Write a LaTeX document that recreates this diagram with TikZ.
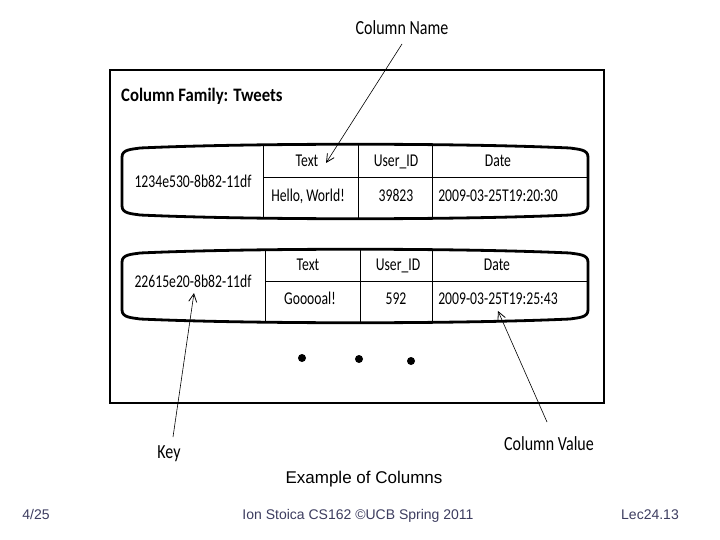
\documentclass[tikz,border=0pt]{standalone}
\usepackage{fontspec}
\usepackage{graphicx}
\setmainfont{Carlito}
\newfontfamily\capfont{Liberation Sans}
\usetikzlibrary{arrows.meta}
\definecolor{footgray}{RGB}{60,60,95}
\newcommand\sq[1]{\scalebox{0.76}[1]{#1}}
\newcommand\sqb[1]{\scalebox{0.8}[1]{#1}}
\tikzset{
  tb/.style={font=\fontsize{18}{18}\selectfont, inner sep=0pt, text height=1.12em, text depth=0.1em},
  lbl/.style={font=\fontsize{20}{20}\selectfont, inner sep=0pt, text height=1.1em, text depth=0.1em},
  rowline/.style={line width=2.8pt, line join=round},
  grid/.style={line width=0.9pt},
  pointer/.style={line width=0.6pt, -{Straight Barb[length=8pt,width=8pt,line width=0.8pt]}},
  foot/.style={font=\capfont\fontsize{14}{14}\selectfont, text=footgray, inner sep=0pt, text height=0.72em, text depth=0.1em},
  dotc/.style={fill=black, draw=none}
}
\newcommand\rowshape[2]{%
  \draw[rowline] (122,{#1+14}) to[out=90,in=190] (140,{#1+5})
    .. controls (250,{#1}) and (460,{#1}) .. (570,{#1+5})
    to[out=-10,in=90] (588,{#1+14}) -- (588,{#2-14})
    to[out=-90,in=10] (570,{#2-5})
    .. controls (460,{#2}) and (250,{#2}) .. (140,{#2-5})
    to[out=170,in=-90] (122,{#2-14}) -- cycle;}
\begin{document}
\begin{tikzpicture}[x=1pt,y=-1pt]
\useasboundingbox (0,0) rectangle (720,540);
% outer frame
\draw[line width=1.3pt] (110,70) rectangle (604,403);
\node[anchor=west, font=\bfseries\fontsize{19}{19}\selectfont, inner sep=0pt, text height=1.1em, text depth=0.1em] (title) at (121,97) {\scalebox{0.88}[1]{Column Family: Tweets}};

% row 1
\rowshape{143}{220}
\draw[grid] (263,145) -- (263,218);
\draw[grid] (358,145) -- (358,219);
\draw[grid] (432,145) -- (432,219);
\draw[grid] (263,177) -- (588,177);
\node[tb] (k1) at (193,182) {\sq{1234e530-8b82-11df}};
\node[tb] (t1) at (307,161) {\sq{Text}};
\node[tb] (u1) at (396,161) {\sq{User\_ID}};
\node[tb] (d1) at (498,161) {\sq{Date}};
\node[tb] (v1) at (308,196) {\sq{Hello, World!}};
\node[tb] (w1) at (396,196) {\sq{39823}};
\node[tb] (x1) at (498,196) {\sq{2009-03-25T19:20:30}};

% row 2
\rowshape{248}{324}
\draw[grid] (265,250) -- (265,322);
\draw[grid] (360,250) -- (360,323);
\draw[grid] (432,250) -- (432,323);
\draw[grid] (265,281) -- (588,281);
\node[tb] (k2) at (193,282) {\sq{22615e20-8b82-11df}};
\node[tb] (t2) at (308,265) {\sq{Text}};
\node[tb] (u2) at (398,265) {\sq{User\_ID}};
\node[tb] (d2) at (497,265) {\sq{Date}};
\node[tb] (v2) at (310,299) {\sq{Gooooal!}};
\node[tb] (w2) at (396,299) {\sq{592}};
\node[tb] (x2) at (498,299) {\sq{2009-03-25T19:25:43}};

% dots
\fill[dotc] (302,358) circle (4);
\fill[dotc] (359,359) circle (4);
\fill[dotc] (411,361) circle (4);

% labels and pointers
\node[lbl] (cn) at (402,30) {\sqb{Column Name}};
\node[lbl] (key) at (169,453) {\sqb{Key}};
\node[lbl] (cv) at (549,445) {\sqb{Column Value}};
\coordinate (cnS) at (402,44);
\coordinate (cnT) at (326,163);
\coordinate (keyS) at (173,437);
\coordinate (keyT) at (194,293);
\coordinate (cvS) at (547,422);
\coordinate (cvT) at (498,311);
\draw[pointer] (cnS) -- (cnT);
\draw[pointer] (keyS) -- (keyT);
\draw[pointer] (cvS) -- (cvT);

% caption and footer
\node[font=\capfont\fontsize{17}{17}\selectfont, inner sep=0pt, text height=0.72em, text depth=0.1em] (cap) at (364,480) {Example of Columns};
\node[foot] (f1) at (36,516) {4/25};
\node[foot] (f2) at (358,516) {Ion Stoica CS162 ©UCB Spring 2011};
\node[foot] (f3) at (650,516) {Lec24.13};
\end{tikzpicture}
\end{document}
